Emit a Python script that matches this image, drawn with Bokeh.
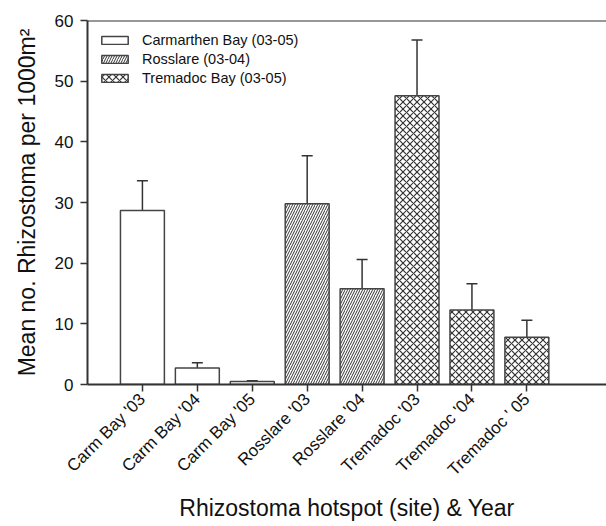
import math
from bokeh.plotting import figure
from bokeh.models import ColumnDataSource, Range1d, FixedTicker, Whisker, TeeHead, Span
from bokeh.embed import file_html
from bokeh.resources import INLINE

# ---- data ----
site_labels = ["Carm Bay '03", "Carm Bay '04", "Carm Bay '05", "Rosslare '03",
               "Rosslare '04", "Tremadoc '03", "Tremadoc '04", "Tremadoc ' 05"]
means = [28.7, 2.7, 0.5, 29.8, 15.8, 47.6, 12.3, 7.8]
err_upper = [33.6, 3.6, 0.6, 37.7, 20.6, 56.8, 16.6, 10.6]
err_lower = [23.8, 1.9, 0.4, 21.6, 11.0, 38.4, 8.1, 4.9]
groups = ["Carmarthen Bay (03-05)"] * 3 + ["Rosslare (03-04)"] * 2 + ["Tremadoc Bay (03-05)"] * 3
group_names = ["Carmarthen Bay (03-05)", "Rosslare (03-04)", "Tremadoc Bay (03-05)"]
y_ticks = [0, 10, 20, 30, 40, 50, 60]
y_title = "Mean no. Rhizostoma per 1000m²"
x_title = "Rhizostoma hotspot (site) & Year"

positions = [i + 1 for i in range(len(site_labels))]

FONT = "Liberation Sans"
DARK = "#333333"
TXT = "#111111"

p = figure(width=606, height=526, output_backend="svg", toolbar_location=None,
           x_range=Range1d(0, 9.45), y_range=Range1d(0, 60),
           min_border_left=87, min_border_top=20, min_border_right=0, min_border_bottom=142)
p.outline_line_color = None
p.xgrid.visible = False
p.ygrid.visible = False
p.background_fill_color = "white"

hatch = {
    "Carmarthen Bay (03-05)": dict(hatch_pattern=" ", hatch_scale=5),
    "Rosslare (03-04)": dict(hatch_pattern="/", hatch_scale=5, hatch_weight=1.0),
    "Tremadoc Bay (03-05)": dict(hatch_pattern="x", hatch_scale=7, hatch_weight=1.2),
}

for g in group_names:
    idx = [i for i, gg in enumerate(groups) if gg == g]
    src = ColumnDataSource(dict(x=[positions[i] for i in idx], top=[means[i] for i in idx]))
    p.vbar(x="x", top="top", width=0.8, bottom=0, source=src, fill_color="white",
           line_color="#444444", line_width=1.5, hatch_color="#333333",
           legend_label=g, **hatch[g])

err_src = ColumnDataSource(dict(x=positions, upper=err_upper, lower=err_lower))
w = Whisker(base="x", upper="upper", lower="lower", source=err_src,
            line_color="#333333", line_width=1.5,
            upper_head=TeeHead(size=11, line_color="#333333", line_width=1.5),
            lower_head=TeeHead(size=11, line_color="#333333", line_width=1.5))
p.add_layout(w)

p.add_layout(Span(location=60, dimension="width", line_color=DARK, line_width=2))

# axes
p.yaxis.ticker = FixedTicker(ticks=y_ticks)
p.yaxis.minor_tick_line_color = None
p.yaxis.major_tick_in = 0
p.yaxis.major_tick_out = 7
p.yaxis.major_label_standoff = 7
p.yaxis.axis_line_width = 2
p.yaxis.axis_line_color = DARK
p.yaxis.major_tick_line_color = DARK
p.yaxis.major_tick_line_width = 1.5
p.yaxis.major_label_text_font = FONT
p.yaxis.major_label_text_font_size = "17px"
p.yaxis.major_label_text_color = TXT
p.yaxis.axis_label = y_title
p.yaxis.axis_label_standoff = 12
p.yaxis.axis_label_text_font = FONT
p.yaxis.axis_label_text_font_size = "23px"
p.yaxis.axis_label_text_font_style = "normal"
p.yaxis.axis_label_text_color = TXT

p.xaxis.ticker = FixedTicker(ticks=positions)
p.xaxis.major_label_overrides = {pos: lab for pos, lab in zip(positions, site_labels)}
p.xaxis.minor_tick_line_color = None
p.xaxis.major_tick_in = 0
p.xaxis.major_tick_out = 7
p.xaxis.major_label_standoff = 5
p.xaxis.axis_line_width = 2
p.xaxis.axis_line_color = DARK
p.xaxis.major_tick_line_color = DARK
p.xaxis.major_tick_line_width = 1.5
p.xaxis.major_label_orientation = math.pi / 4
p.xaxis.major_label_text_font = FONT
p.xaxis.major_label_text_font_size = "17px"
p.xaxis.major_label_text_color = TXT
p.xaxis.axis_label = x_title
p.xaxis.axis_label_standoff = 6
p.xaxis.axis_label_text_font = FONT
p.xaxis.axis_label_text_font_size = "23px"
p.xaxis.axis_label_text_font_style = "normal"
p.xaxis.axis_label_text_color = TXT

# legend
p.legend.location = "top_left"
p.legend.margin = 11
p.legend.padding = 0
p.legend.border_line_color = None
p.legend.background_fill_alpha = 0
p.legend.glyph_width = 33
p.legend.glyph_height = 10
p.legend.label_height = 18
p.legend.spacing = 1
p.legend.label_standoff = 11
p.legend.label_text_font = FONT
p.legend.label_text_font_size = "14.5px"
p.legend.label_text_color = TXT

open("out.html", "w").write(file_html(p, INLINE))
